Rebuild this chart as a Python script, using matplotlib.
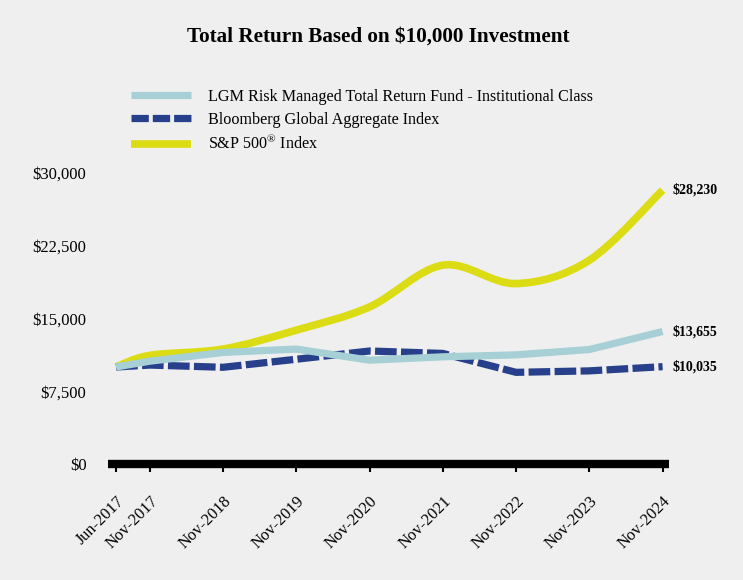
import matplotlib
matplotlib.use("Agg")
import matplotlib.pyplot as plt
import matplotlib.dates as mdates
from matplotlib.path import Path
from matplotlib.patches import PathPatch
from matplotlib.lines import Line2D
import pandas as pd
import numpy as np

dates = ["2017-06-14", "2017-11-30", "2018-11-30", "2019-11-30", "2020-11-30",
         "2021-11-30", "2022-11-30", "2023-11-30", "2024-11-30"]
tick_labels = ["Jun-2017", "Nov-2017", "Nov-2018", "Nov-2019", "Nov-2020",
               "Nov-2021", "Nov-2022", "Nov-2023", "Nov-2024"]
fund = [10000, 10600, 11500, 11850, 10700, 11050, 11250, 11800, 13655]
bloomberg = [10000, 10200, 9970, 10800, 11650, 11400, 9450, 9600, 10035]
sp500 = [10000, 11200, 11850, 13800, 16200, 20500, 18600, 21000, 28230]
yticks = [0, 7500, 15000, 22500, 30000]
ytick_labels = ["$0", "$7,500", "$15,000", "$22,500", "$30,000"]
end_labels = ["$28,230", "$13,655", "$10,035"]

names = ["LGM Risk Managed Total Return Fund - Institutional Class",
         "Bloomberg Global Aggregate Index",
         "S&P 500$^{\\mathrm{®}}$ Index"]
c_fund = "#a6d0d6"
c_bb = "#28408c"
c_sp = "#dcdc14"
bg = "#efefef"

plt.rcParams["font.family"] = ["Liberation Serif", "DejaVu Serif"]
plt.rcParams["mathtext.fontset"] = "custom"
plt.rcParams["mathtext.rm"] = "Liberation Serif"

fig = plt.figure(figsize=(7.43, 5.80), dpi=100, facecolor=bg)
ax = fig.add_axes([108/743, 1-464/580, (669-108)/743, (464-173)/580])
ax.set_facecolor(bg)

x = mdates.date2num(pd.to_datetime(dates))

# smooth S&P curve via bezier path (Catmull-Rom -> cubic Bezier)
pts = np.column_stack([x, sp500]).astype(float)
verts = [tuple(pts[0])]
codes = [Path.MOVETO]
n = len(pts)
for i in range(n-1):
    p0 = pts[i-1] if i > 0 else pts[i]
    p1 = pts[i]
    p2 = pts[i+1]
    p3 = pts[i+2] if i+2 < n else pts[i+1]
    c1 = p1 + (p2 - p0) / 6.0
    c2 = p2 - (p3 - p1) / 6.0
    verts += [tuple(c1), tuple(c2), tuple(p2)]
    codes += [Path.CURVE4]*3
sp_patch = PathPatch(Path(verts, codes), facecolor="none", edgecolor=c_sp,
                     lw=5.5, capstyle="butt", joinstyle="round", zorder=2)
ax.add_patch(sp_patch)

ax.plot(x, bloomberg, color=c_bb, lw=5.2, dashes=(3.0, 0.6),
        dash_capstyle="butt", solid_joinstyle="round", zorder=3)
ax.plot(x, fund, color=c_fund, lw=5.2, solid_capstyle="butt",
        solid_joinstyle="round", zorder=4)

ax.set_ylim(0, 30000)
xl0 = mdates.date2num(pd.Timestamp("2017-05-05"))
xl1 = mdates.date2num(pd.Timestamp("2025-01-01"))
ax.set_xlim(xl0, xl1)

ax.set_yticks(yticks)
ax.set_yticklabels(ytick_labels, fontsize=12)
ax.tick_params(axis="y", length=0, pad=15.5)

ax.set_xticks(x)
ax.set_xticklabels(tick_labels, fontsize=11.8, rotation=45, ha="right",
                   rotation_mode="anchor")
ax.tick_params(axis="x", direction="out", length=6, width=1.5, pad=15)

for s in ["top", "right", "left"]:
    ax.spines[s].set_visible(False)
ax.spines["bottom"].set_linewidth(6)
ax.spines["bottom"].set_capstyle("butt")

for val, lab in zip([sp500[-1], fund[-1], bloomberg[-1]], end_labels):
    ax.annotate(lab, xy=(x[-1], val), xytext=(7, 0), textcoords="offset points",
                ha="left", va="center", fontsize=10, fontweight="bold",
                annotation_clip=False)

handles = [Line2D([], [], color=c_fund, lw=5.2, solid_capstyle="butt"),
           Line2D([], [], color=c_bb, lw=5.2, dashes=(2.4, 0.55), dash_capstyle="butt"),
           Line2D([], [], color=c_sp, lw=5.5, solid_capstyle="butt")]
fig.legend(handles, names, loc="upper left", bbox_to_anchor=(131/743, 1-89/580),
           frameon=False, fontsize=11.6, handlelength=3.7, handletextpad=1.05,
           labelspacing=0.42, borderpad=0, borderaxespad=0)

fig.text(378/743, 1-37/580, "Total Return Based on $10,000 Investment",
         ha="center", va="center", fontsize=15.2, fontweight="bold")

fig.savefig("out.png", dpi=100, facecolor=bg)
